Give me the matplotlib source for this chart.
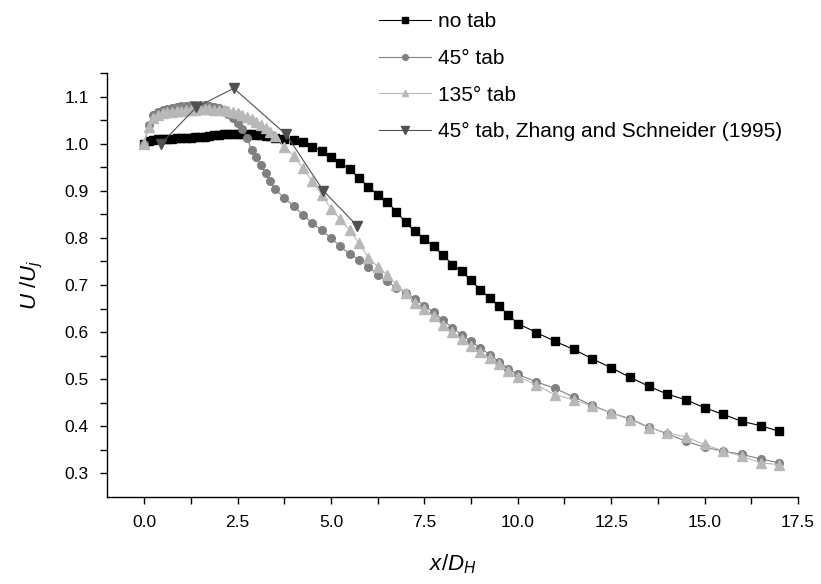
import matplotlib
matplotlib.use("Agg")
import matplotlib.pyplot as plt

plt.rcParams['font.family'] = ['Liberation Sans', 'DejaVu Sans']
plt.rcParams['mathtext.fontset'] = 'custom'
plt.rcParams['mathtext.rm'] = 'Liberation Sans'
plt.rcParams['mathtext.it'] = 'Liberation Sans:italic'

# === DATI === #

# no tab
x_notab = [0.0, 0.125, 0.25, 0.375, 0.5, 0.625, 0.75, 0.875, 1.0, 1.125, 1.25, 1.375,
           1.5, 1.625, 1.75, 1.875, 2.0, 2.125, 2.25, 2.375, 2.5, 2.625, 2.75, 2.875,
           3.0, 3.125, 3.25, 3.375, 3.5, 3.75, 4.0, 4.25, 4.5, 4.75, 5.0, 5.25, 5.5,
           5.75, 6.0, 6.25, 6.5, 6.75, 7.0, 7.25, 7.5, 7.75, 8.0, 8.25, 8.5, 8.75,
           9.0, 9.25, 9.5, 9.75, 10.0, 10.5, 11.0, 11.5, 12.0, 12.5, 13.0, 13.5,
           14.0, 14.5, 15.0, 15.5, 16.0, 16.5, 17.0]
y_notab = [1.000, 1.006, 1.008, 1.010, 1.010, 1.011, 1.011, 1.012, 1.012, 1.013, 1.013, 1.014,
           1.014, 1.015, 1.016, 1.018, 1.019, 1.020, 1.021, 1.022, 1.022, 1.021, 1.020, 1.020,
           1.019, 1.018, 1.017, 1.016, 1.013, 1.010, 1.008, 1.005, 0.994, 0.985, 0.973, 0.960, 0.946,
           0.927, 0.909, 0.892, 0.877, 0.856, 0.833, 0.814, 0.798, 0.782, 0.764, 0.743, 0.729, 0.710,
           0.690, 0.672, 0.655, 0.636, 0.618, 0.599, 0.580, 0.563, 0.543, 0.524, 0.504, 0.485,
           0.468, 0.456, 0.439, 0.425, 0.410, 0.401, 0.389]

# 45° tab
x_45 = x_notab
y_45 = [1.000, 1.040, 1.062, 1.068, 1.072, 1.075, 1.077, 1.079, 1.080, 1.081, 1.082, 1.082,
        1.083, 1.082, 1.081, 1.079, 1.076, 1.071, 1.063, 1.055, 1.045, 1.032, 1.013, 0.988,
        0.972, 0.955, 0.937, 0.920, 0.904, 0.885, 0.868, 0.849, 0.832, 0.816, 0.800, 0.782, 0.766,
        0.754, 0.739, 0.722, 0.708, 0.694, 0.684, 0.671, 0.656, 0.642, 0.625, 0.609, 0.594, 0.580,
        0.566, 0.552, 0.537, 0.522, 0.510, 0.494, 0.480, 0.462, 0.444, 0.428, 0.416, 0.398,
        0.384, 0.368, 0.355, 0.347, 0.340, 0.330, 0.322]

# 135° tab
x_135 = x_notab
y_135 = [1.000, 1.035, 1.055, 1.062, 1.065, 1.067, 1.068, 1.069, 1.070, 1.071, 1.072, 1.073,
         1.074, 1.074, 1.074, 1.073, 1.072, 1.071, 1.069, 1.067, 1.065, 1.062, 1.058, 1.053,
         1.047, 1.040, 1.033, 1.026, 1.016, 0.994, 0.975, 0.948, 0.920, 0.892, 0.862, 0.840, 0.817,
         0.789, 0.758, 0.739, 0.722, 0.700, 0.683, 0.662, 0.648, 0.634, 0.615, 0.600, 0.586, 0.570,
         0.557, 0.544, 0.531, 0.518, 0.505, 0.488, 0.466, 0.456, 0.442, 0.428, 0.414, 0.397,
         0.386, 0.377, 0.361, 0.347, 0.336, 0.322, 0.318]

# 45° tab, Zhang and Schneider (1995)
x_zs = [0.45, 1.4, 2.4, 3.8, 4.8, 5.7]
y_zs = [1.000, 1.078, 1.118, 1.020, 0.900, 0.826]

# === GRAFICO === #

fig = plt.figure(figsize=(8.21, 5.84), dpi=100)
ax = fig.add_axes([0.130, 0.1495, 0.842, 0.725])

ax.plot(x_notab, y_notab, '-s', color='black', lw=0.8, ms=6, label='no tab')
ax.plot(x_45, y_45, '-o', color='#808080', mec='#808080', lw=0.8, ms=5.5, label='45° tab')
ax.plot(x_135, y_135, '-^', color='#b8b8b8', mec='#b8b8b8', lw=0.8, ms=6.5, label='135° tab')
ax.plot(x_zs, y_zs, '-v', color='#505050', mec='#505050', lw=0.8, ms=7,
        label='45° tab, Zhang and Schneider (1995)')

ax.set_xlim(-1.0, 17.5)
ax.set_ylim(0.25, 1.15)
ax.set_xticks([0.0, 2.5, 5.0, 7.5, 10.0, 12.5, 15.0, 17.5])
ax.set_xticks([1.25, 3.75, 6.25, 8.75, 11.25, 13.75, 16.25], minor=True)
ax.set_yticks([0.3, 0.4, 0.5, 0.6, 0.7, 0.8, 0.9, 1.0, 1.1])
ax.set_yticks([0.35, 0.45, 0.55, 0.65, 0.75, 0.85, 0.95, 1.05, 1.15], minor=True)
ax.xaxis.set_major_formatter(plt.FormatStrFormatter('%.1f'))
ax.yaxis.set_major_formatter(plt.FormatStrFormatter('%.1f'))

ax.spines['top'].set_visible(False)
ax.spines['right'].set_visible(False)
for s in ['left', 'bottom']:
    ax.spines[s].set_linewidth(1.0)
ax.tick_params(which='both', direction='out', length=5, width=1.0, labelsize=12.5, pad=8)

ax.set_xlabel(r'$x/D_H$', fontsize=16, labelpad=16)
ax.set_ylabel(r'$U\ /U_j$', fontsize=16, labelpad=14)

fig.legend(loc='upper left', bbox_to_anchor=(0.449, 0.997), frameon=False, fontsize=15,
           handlelength=2.5, handletextpad=0.33, labelspacing=0.85, borderpad=0,
           markerscale=0.75)

fig.savefig('out.png', dpi=100)
